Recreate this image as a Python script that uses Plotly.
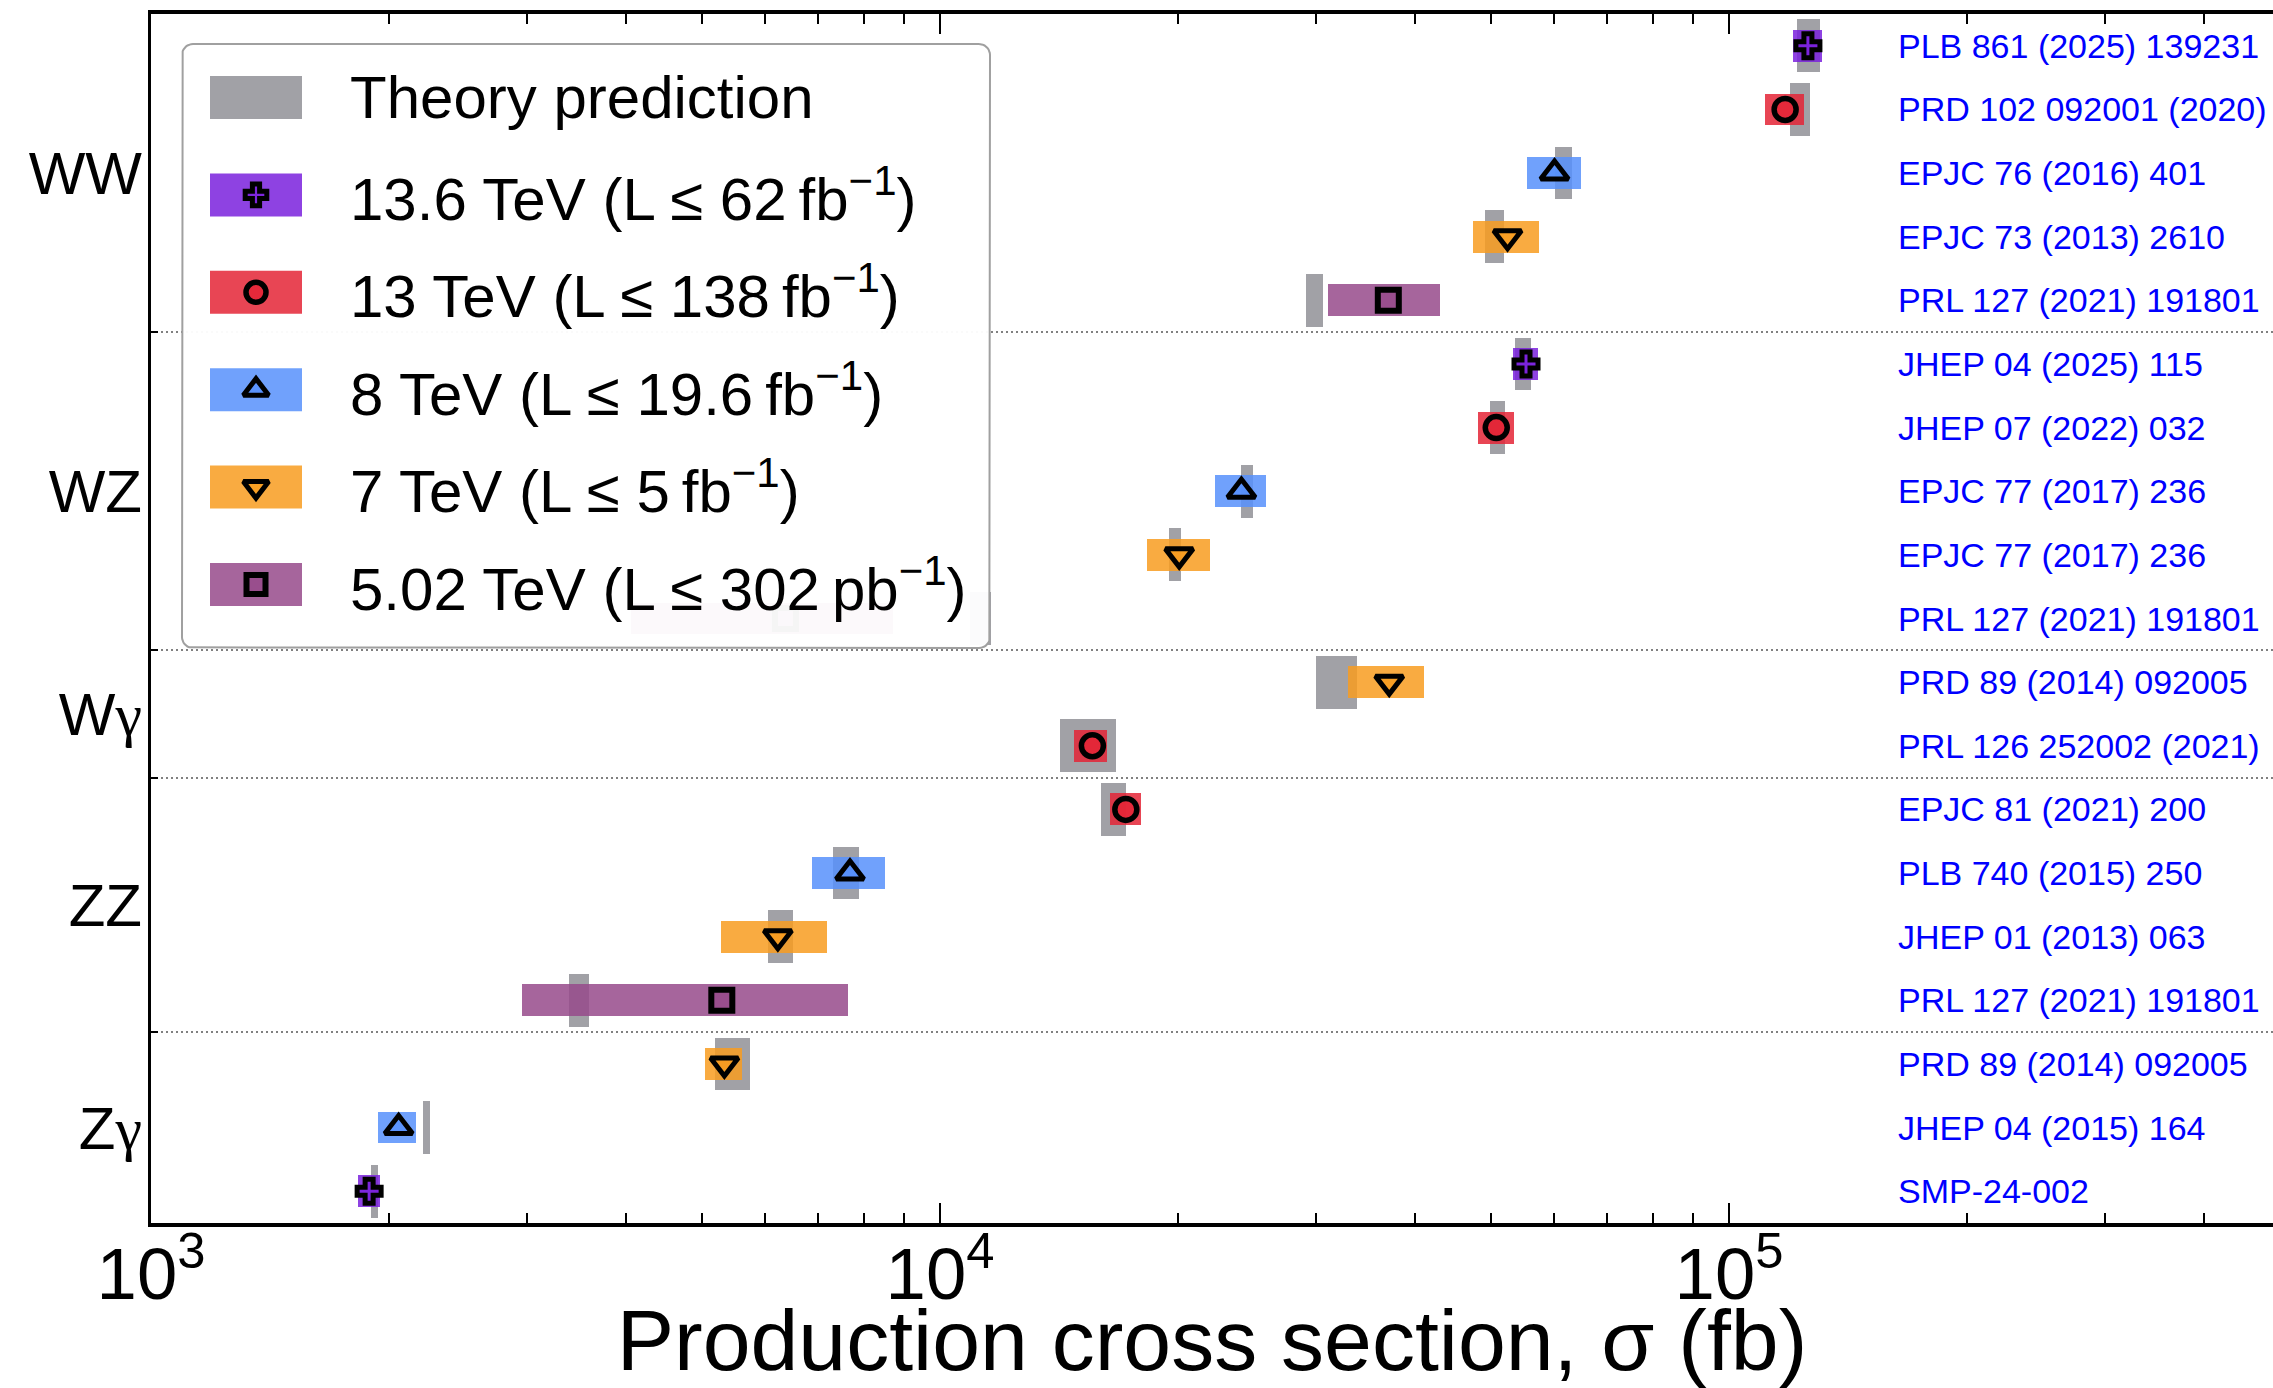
import numpy as np
import plotly.graph_objects as go

# ---------------------------------------------------------------- data (fb)
processes = ["WW", "WZ", "W<span style='font-family:Liberation Serif'>γ</span>", "ZZ",
             "Z<span style='font-family:Liberation Serif'>γ</span>"]
group_sizes = [5, 5, 2, 4, 3]

energies = ["13.6", "13", "8", "7", "5.02",
            "13.6", "13", "8", "7", "5.02",
            "7", "13",
            "13", "8", "7", "5.02",
            "7", "8", "13.6"]

references = [
    "PLB 861 (2025) 139231", "PRD 102 092001 (2020)", "EPJC 76 (2016) 401",
    "EPJC 73 (2013) 2610", "PRL 127 (2021) 191801",
    "JHEP 04 (2025) 115", "JHEP 07 (2022) 032", "EPJC 77 (2017) 236",
    "EPJC 77 (2017) 236", "PRL 127 (2021) 191801",
    "PRD 89 (2014) 092005", "PRL 126 252002 (2021)",
    "EPJC 81 (2021) 200", "PLB 740 (2015) 250", "JHEP 01 (2013) 063",
    "PRL 127 (2021) 191801",
    "PRD 89 (2014) 092005", "JHEP 04 (2015) 164", "SMP-24-002",
]

measured = [125900, 117800, 60100, 52400, 37000,
            55300, 50700, 24100, 20100, 6370,
            37100, 15600,
            17200, 7690, 6230, 5290,
            5330, 2060, 1890]
measured_lo = [120600, 111100, 55400, 47400, 31000,
               53200, 48000, 22300, 18300, 4060,
               32900, 14800,
               16400, 6880, 5280, 2950,
               5030, 1940, 1830]
measured_hi = [131300, 124400, 65000, 57400, 43000,
               57200, 53400, 25900, 22000, 8720,
               41100, 16300,
               18000, 8510, 7190, 7650,
               5610, 2170, 1950]
theory_lo = [122100, 119500, 60200, 49100, 29100,
             53600, 49800, 24100, 19500, 10900,
             30000, 14200,
             16000, 7310, 6060, 3390,
             5180, 2210, 1900]
theory_hi = [130400, 126500, 63300, 51800, 30600,
             56100, 52000, 24950, 20200, 11600,
             33800, 16700,
             17200, 7900, 6520, 3590,
             5740, 2260, 1940]

energy_order = ["13.6", "13", "8", "7", "5.02"]
energy_labels = [
    "13.6 TeV (L ≤ 62\u2009fb<sup>−1</sup>)",
    "13 TeV (L ≤ 138\u2009fb<sup>−1</sup>)",
    "8 TeV (L ≤ 19.6\u2009fb<sup>−1</sup>)",
    "7 TeV (L ≤ 5\u2009fb<sup>−1</sup>)",
    "5.02 TeV (L ≤ 302\u2009pb<sup>−1</sup>)",
]

# ---------------------------------------------------------------- styling
FONT = "Liberation Sans, Arial, Helvetica, sans-serif"
colors = {"13.6": "rgba(122,33,221,0.85)", "13": "rgba(228,37,54,0.85)",
          "8": "rgba(87,144,252,0.85)", "7": "rgba(248,156,32,0.85)",
          "5.02": "rgba(150,74,139,0.85)"}
theory_color = "rgba(156,156,161,0.95)"
symbols = {"13.6": "cross", "13": "circle", "8": "triangle-up",
           "7": "triangle-down", "5.02": "square"}
msizes = {"13.6": 20, "13": 22, "8": 24, "7": 24, "5.02": 21}
mlines = {"13.6": 5, "13": 5.5, "8": 5, "7": 5, "5.02": 6}

W, H = 2273, 1388
ML, MR, MT, MB = 151, 0, 14, 165
PW, PH = W - ML - MR, H - MT - MB
DECADE_PX = 789.0
x_range = [3, 3 + PW / DECADE_PX]

rows = np.arange(len(measured))
meas = np.array(measured, float)
m_lo, m_hi = np.array(measured_lo, float), np.array(measured_hi, float)
t_lo, t_hi = np.array(theory_lo, float), np.array(theory_hi, float)

# group label positions and separators
bounds = np.cumsum([0] + group_sizes)
group_centers = [(bounds[i] + bounds[i + 1] - 1) / 2 for i in range(len(group_sizes))]
separators = [b - 0.5 for b in bounds[1:-1]]

fig = go.Figure()

# theory bands
fig.add_trace(go.Bar(
    y=rows, x=t_hi - t_lo, base=t_lo, orientation="h", width=0.83,
    marker=dict(color=theory_color, line=dict(width=0)),
    hoverinfo="skip", showlegend=False))

# measurement uncertainty boxes
for e in energy_order:
    idx = [i for i, en in enumerate(energies) if en == e]
    fig.add_trace(go.Bar(
        y=rows[idx], x=(m_hi - m_lo)[idx], base=m_lo[idx], orientation="h",
        width=0.5, marker=dict(color=colors[e], line=dict(width=0)),
        hoverinfo="skip", showlegend=False))

# central values
for e in energy_order:
    idx = [i for i, en in enumerate(energies) if en == e]
    fig.add_trace(go.Scatter(
        y=rows[idx], x=meas[idx], mode="markers",
        marker=dict(symbol=symbols[e], size=msizes[e], color=colors[e],
                    line=dict(width=mlines[e], color="black")),
        hoverinfo="skip", showlegend=False))

# ---------------------------------------------------------------- legend box
# drawn on an overlay axis measured in pixels from the plot's top-left corner
LX0, LX1, LY0, LY1, RAD = 31, 839, 30, 634, 11
px, py = [], []
for cx, cy, a0 in [(LX1 - RAD, LY0 + RAD, -90), (LX1 - RAD, LY1 - RAD, 0),
                   (LX0 + RAD, LY1 - RAD, 90), (LX0 + RAD, LY0 + RAD, 180)]:
    ang = np.radians(np.linspace(a0, a0 + 90, 10))
    px += list(cx + RAD * np.cos(ang))
    py += list(cy + RAD * np.sin(ang))
px.append(px[0]); py.append(py[0])
fig.add_trace(go.Scatter(
    x=px, y=py, xaxis="x2", yaxis="y2", mode="lines", fill="toself",
    fillcolor="rgba(255,255,255,0.96)", line=dict(color="#a0a0a0", width=2),
    hoverinfo="skip", showlegend=False))

entry_y0, entry_dy = 83.5, 97.4
patch_x0, patch_x1, patch_h = 59, 151, 43
text_x = 197
legend_entries = [("theory", "Theory prediction")] + list(zip(energy_order, energy_labels))
annotations = []
for k, (key, label) in enumerate(legend_entries):
    cy = entry_y0 + k * entry_dy
    col = theory_color if key == "theory" else colors[key]
    fig.add_trace(go.Scatter(
        x=[patch_x0, patch_x1, patch_x1, patch_x0, patch_x0],
        y=[cy - patch_h / 2, cy - patch_h / 2, cy + patch_h / 2, cy + patch_h / 2, cy - patch_h / 2],
        xaxis="x2", yaxis="y2", mode="lines", fill="toself", fillcolor=col,
        line=dict(width=0), hoverinfo="skip", showlegend=False))
    if key != "theory":
        fig.add_trace(go.Scatter(
            x=[(patch_x0 + patch_x1) / 2], y=[cy], xaxis="x2", yaxis="y2",
            mode="markers",
            marker=dict(symbol=symbols[key], size=msizes[key] - 2, color=colors[key],
                        line=dict(width=mlines[key], color="black")),
            hoverinfo="skip", showlegend=False))
    annotations.append(dict(
        x=text_x, y=cy, xref="x2", yref="y2", text=label, showarrow=False,
        xanchor="left", yanchor="middle",
        font=dict(family=FONT, size=60, color="black")))

# publication references on the right
REF_X = (1896 - ML) / PW
for r, ref in zip(rows, references):
    annotations.append(dict(
        x=REF_X, y=r, xref="paper", yref="y", text=ref, showarrow=False,
        xanchor="left", yanchor="middle",
        font=dict(family=FONT, size=34, color="#0000ff")))

fig.update_layout(
    width=W, height=H,
    margin=dict(l=ML, r=MR, t=MT, b=MB),
    paper_bgcolor="white", plot_bgcolor="white",
    font=dict(family=FONT, color="black"),
    barmode="overlay", bargap=0,
    showlegend=False,
    annotations=annotations,
    xaxis=dict(
        type="log", range=x_range, dtick=1, exponentformat="power",
        automargin=False,
        showline=True, linecolor="black", linewidth=3.5, mirror="ticks",
        ticks="inside", ticklen=20, tickwidth=2, tickcolor="black",
        minor=dict(ticks="inside", ticklen=10, tickwidth=1.5, tickcolor="black",
                   dtick="D1", showgrid=False),
        showgrid=False, zeroline=False,
        tickfont=dict(family=FONT, size=58, color="black"),
        ticklabelstandoff=-12,
        title=dict(text="Production cross section, σ (fb)",
                   font=dict(family=FONT, size=86, color="black"), standoff=14),
    ),
    yaxis=dict(
        range=[len(measured) - 0.5, -0.5],
        automargin=False,
        tickmode="array", tickvals=group_centers, ticktext=processes,
        ticks="", showgrid=False, zeroline=False,
        showline=True, linecolor="black", linewidth=3, mirror=False,
        tickfont=dict(family=FONT, size=60, color="black"),
        ticklabelstandoff=-6,
        minor=dict(tickmode="array", tickvals=separators, ticks="inside",
                   ticklen=7, tickwidth=1.5, tickcolor="black",
                   showgrid=True, gridcolor="#808080", gridwidth=1.5,
                   griddash="2px,3px"),
    ),
    xaxis2=dict(overlaying="x", anchor="y2", range=[0, PW], visible=False,
                fixedrange=True),
    yaxis2=dict(overlaying="y", anchor="x2", range=[PH, 0], visible=False,
                fixedrange=True),
)

fig.write_html("out.html")
